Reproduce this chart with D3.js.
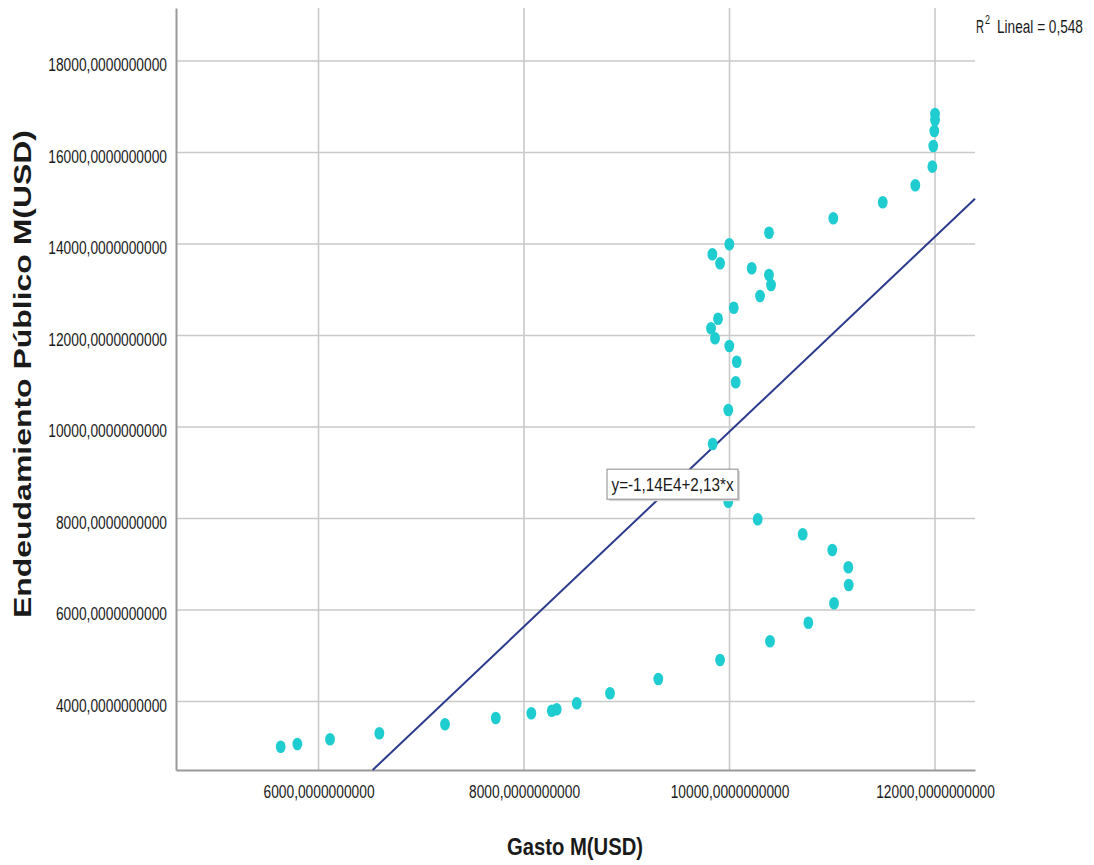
<!DOCTYPE html>
<html>
<head>
<meta charset="utf-8">
<script src="https://cdn.jsdelivr.net/npm/d3@7"></script>
<style>
  html, body { margin: 0; padding: 0; background: #ffffff; }
  svg { display: block; }
  text { font-family: "Liberation Sans", Arial, sans-serif; fill: #1a1a1a; }
</style>
</head>
<body>
<svg id="chart" width="1094" height="865"></svg>
<script>
// Gasto vs. Endeudamiento Público, millones de USD
const gasto = [
  5632, 5794, 6112, 6592, 7231, 7725, 8071, 8270, 8318, 8513,
  8837, 9307, 9908, 10394, 10767, 11017, 11160, 11156, 11000, 10712,
  10274, 9988, 9836, 9988, 10060, 10070, 9998, 9859, 9820, 9888,
  10041, 10297, 10404, 10384, 10216, 9908, 9833, 9998, 10384, 11010,
  11491, 11808, 11974, 11983, 11993, 12000, 12000
];
const endeudamiento = [
  3012, 3071, 3174, 3305, 3502, 3639, 3742, 3799, 3830, 3961,
  4179, 4492, 4907, 5316, 5723, 6147, 6546, 6933, 7311, 7655,
  7983, 8367, 9628, 10372, 10977, 11427, 11770, 11939, 12157, 12367,
  12608, 12863, 13104, 13322, 13469, 13578, 13775, 13993, 14247, 14562,
  14911, 15283, 15690, 16142, 16470, 16710, 16842
];

// Axis ranges and tick values
const xDomain = [4613, 12389];
const yDomain = [2503, 19158];
const xTicks = [6000, 8000, 10000, 12000];
const yTicks = [4000, 6000, 8000, 10000, 12000, 14000, 16000, 18000];

// Linear fit y = a + b*x
const fitIntercept = -11400;
const fitSlope = 2.13;
const fitLabel = "y=-1,14E4+2,13*x";
const fitLabelAt = 9450;
const r2Value = "0,548";

const xTitle = "Gasto M(USD)";
const yTitle = "Endeudamiento Público M(USD)";

const svg = d3.select("#chart");
const plot = { left: 176, right: 975, top: 8, bottom: 770 };

const x = d3.scaleLinear().domain(xDomain).range([plot.left, plot.right]);
const y = d3.scaleLinear().domain(yDomain).range([plot.bottom, plot.top]);

const fmt = v => v.toFixed(10).replace(".", ",");

// Narrow the glyphs horizontally to the condensed look of the labels
function squeeze(sel, factor) {
  sel.each(function () {
    const w = this.getComputedTextLength();
    d3.select(this).attr("textLength", w * factor).attr("lengthAdjust", "spacingAndGlyphs");
  });
}
function fitTo(sel, len) {
  sel.attr("textLength", len).attr("lengthAdjust", "spacingAndGlyphs");
}
// Horizontal squeeze by transform, anchored at the text's start point
function scaledText(px, py, size, str, width) {
  const t = svg.append("text").attr("font-size", size).text(str);
  const w = t.node().getComputedTextLength();
  t.attr("transform", `translate(${px},${py}) scale(${width / w},1)`);
  return t;
}

// Grid lines
const grid = svg.append("g");
grid.selectAll("line.gx").data(xTicks).join("line")
  .attr("x1", d => x(d)).attr("x2", d => x(d))
  .attr("y1", plot.top).attr("y2", plot.bottom)
  .attr("stroke", "#c9c9c9").attr("stroke-width", 1.6);
grid.selectAll("line.gy").data(yTicks).join("line")
  .attr("x1", plot.left).attr("x2", plot.right)
  .attr("y1", d => y(d)).attr("y2", d => y(d))
  .attr("stroke", "#c9c9c9").attr("stroke-width", 1.6);

// Axes via d3-axis, restyled
const xAxis = svg.append("g")
  .attr("transform", `translate(0,${plot.bottom})`)
  .call(d3.axisBottom(x).tickValues(xTicks).tickFormat(fmt).tickSize(0).tickPadding(28));
const yAxis = svg.append("g")
  .attr("transform", `translate(${plot.left},0)`)
  .call(d3.axisLeft(y).tickValues(yTicks).tickFormat(fmt).tickSize(0).tickPadding(9));

[xAxis, yAxis].forEach(a => {
  a.select(".domain").attr("stroke", "#9a9a9a").attr("stroke-width", 2);
  a.selectAll("text").attr("font-size", 18).attr("fill", "#1a1a1a")
    .attr("font-family", '"Liberation Sans", Arial, sans-serif');
});
yAxis.selectAll(".tick text").attr("dy", "0.55em");
xAxis.selectAll(".tick text").attr("dy", "0");
squeeze(xAxis.selectAll(".tick text"), 0.765);
squeeze(yAxis.selectAll(".tick text"), 0.765);

// Fit line clipped to the plotting frame
const xLo = Math.max(xDomain[0], (yDomain[0] - fitIntercept) / fitSlope);
const xHi = Math.min(xDomain[1], (yDomain[1] - fitIntercept) / fitSlope);
svg.append("line")
  .attr("x1", x(xLo)).attr("y1", y(fitIntercept + fitSlope * xLo))
  .attr("x2", x(xHi)).attr("y2", y(fitIntercept + fitSlope * xHi))
  .attr("stroke", "#2b3a8c").attr("stroke-width", 2);

// Scatter points
svg.append("g").selectAll("ellipse")
  .data(gasto.map((g, i) => [g, endeudamiento[i]]))
  .join("ellipse")
  .attr("cx", d => x(d[0])).attr("cy", d => y(d[1]))
  .attr("rx", 4.9).attr("ry", 6.3)
  .attr("fill", "#1fcdd0");

// Equation label sitting on the fit line
const lx = x(fitLabelAt), ly = y(fitIntercept + fitSlope * fitLabelAt);
const eq = svg.append("g").attr("transform", `translate(${lx},${ly})`);
eq.append("rect").attr("x", -64).attr("y", -14).attr("width", 131).attr("height", 30)
  .attr("fill", "#d9d9d9");
eq.append("rect").attr("x", -66).attr("y", -16).attr("width", 131).attr("height", 30)
  .attr("fill", "#ffffff").attr("stroke", "#8a8a8a").attr("stroke-width", 1);
const eqText = eq.append("text").attr("x", -0.5).attr("y", 6)
  .attr("text-anchor", "middle").attr("font-size", 18).text(fitLabel);
fitTo(eqText, 122);

// R² annotation
scaledText(976, 33, 18, "R", 8);
scaledText(985, 24, 12, "2", 5);
scaledText(997, 33, 18, "Lineal = " + r2Value, 86);

// Axis titles
const xt = svg.append("text").attr("x", 575).attr("y", 855)
  .attr("text-anchor", "middle").attr("font-size", 23).attr("font-weight", "bold")
  .attr("fill", "#000").text(xTitle);
fitTo(xt, 136);

const yt = svg.append("text")
  .attr("transform", "translate(31,374) rotate(-90)")
  .attr("text-anchor", "middle").attr("font-size", 23).attr("font-weight", "bold")
  .attr("fill", "#000").text(yTitle);
fitTo(yt, 488);
</script>
</body>
</html>
